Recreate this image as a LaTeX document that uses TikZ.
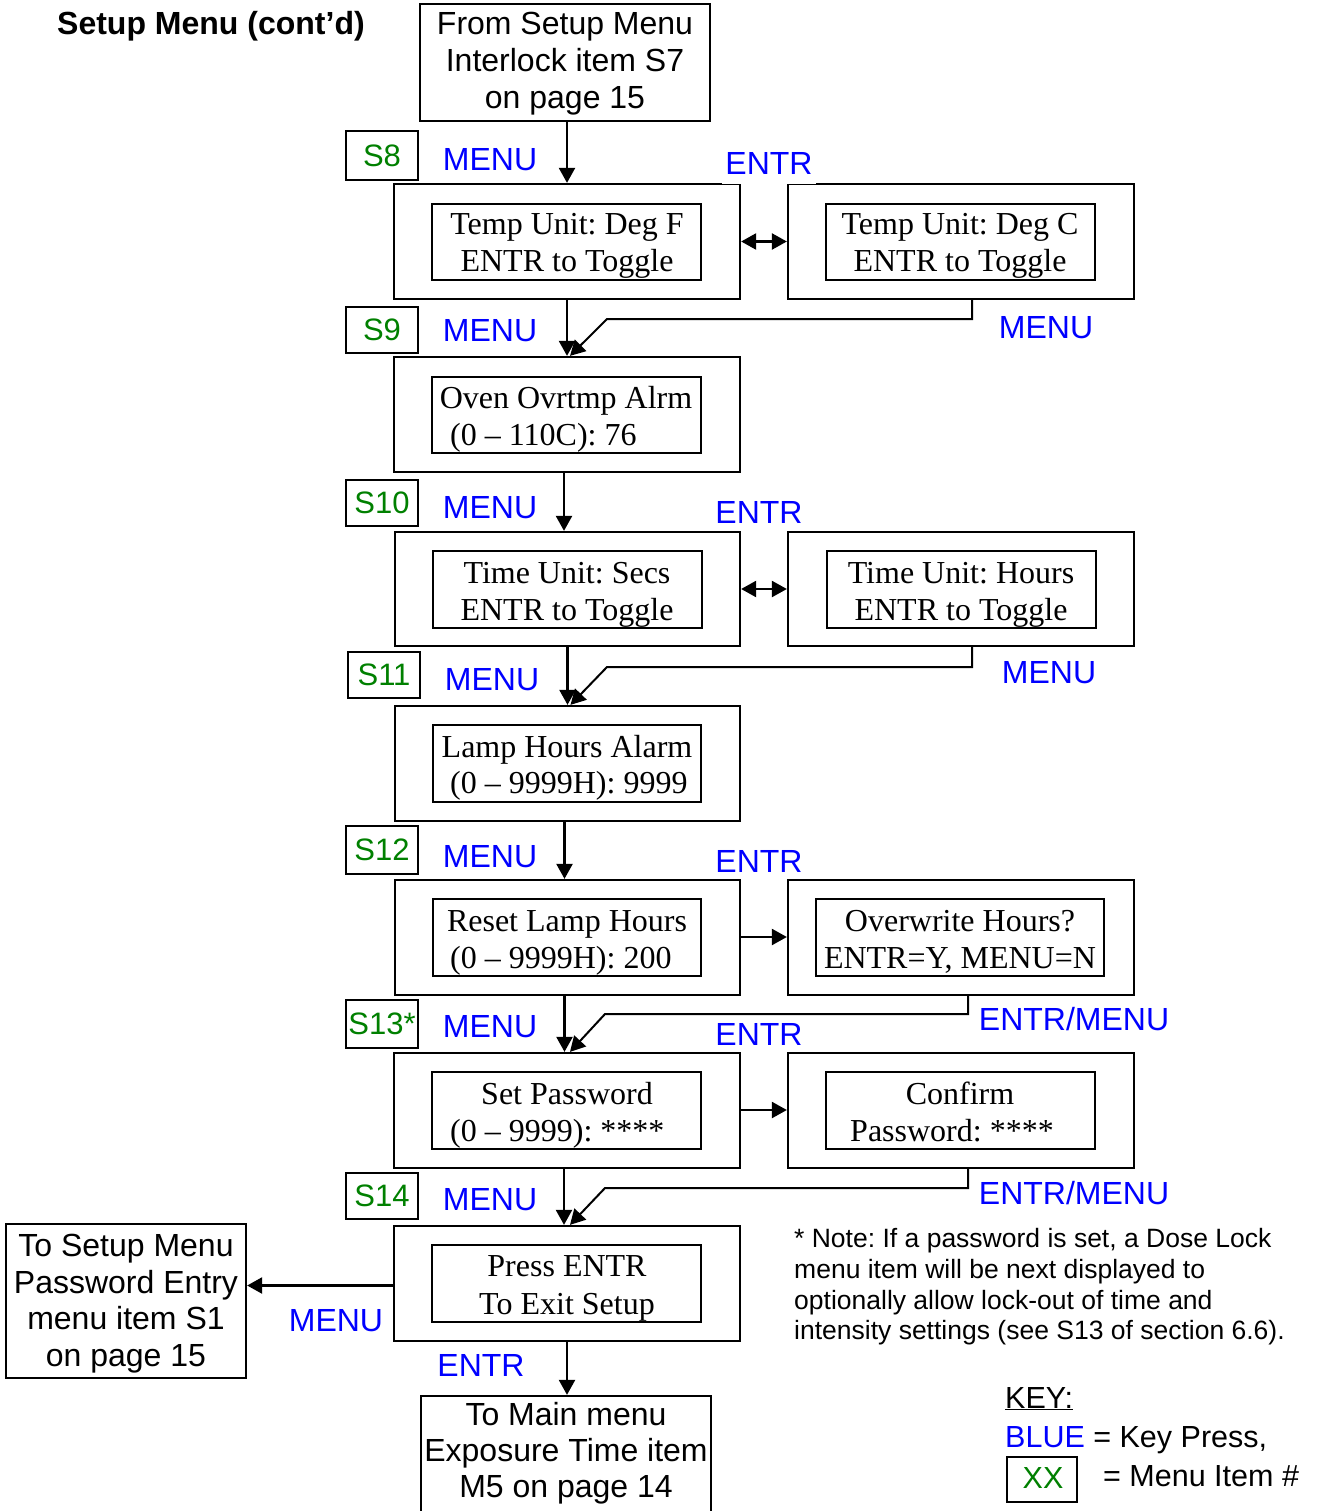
\documentclass[tikz,border=0pt]{standalone}
\usepackage{fontspec}
\setmainfont{Liberation Serif}
\newfontfamily\arialf{Liberation Sans}
\usetikzlibrary{arrows.meta,fit}
\definecolor{sgreen}{RGB}{0,128,0}
\definecolor{kblue}{RGB}{0,0,255}
\frenchspacing
\begin{document}
\frenchspacing
\begin{tikzpicture}[x=1pt,y=-1pt,
 obox/.style={draw, line width=2.3pt, inner sep=0pt, fit={#1}},
 ibox/.style={draw, line width=2pt, inner sep=0pt, fit={#1}},
 sbox/.style={draw, line width=2pt, inner sep=0pt, fit={#1}},
 sans/.style={font=\arialf\fontsize{32}{37}\selectfont, inner sep=0pt, anchor=base},
 serif/.style={font=\fontsize{32}{37}\selectfont, inner sep=0pt, anchor=base},
 key/.style={sans, text=kblue},
 entr/.style={key, fill=white, text depth=9pt, inner xsep=3pt},
 snum/.style={font=\arialf\fontsize{31}{36}\selectfont, inner sep=0pt, text=sgreen, anchor=center},
 note/.style={font=\arialf\fontsize{26.5}{30.7}\selectfont, inner sep=0pt, anchor=base west},
 tip/.tip={Triangle[length=15pt 0 0,width=16pt 0 0]},
 arr/.style={line width=2.4pt, -tip},
 darr/.style={line width=2.4pt, tip-tip},
 ret/.style={line width=2pt, -tip}
]
\useasboundingbox (0,0) rectangle (1323,1511);

% title
\node[sans, font=\arialf\bfseries\fontsize{32}{37}\selectfont, anchor=base west] (title) at (57,35) {Setup Menu (cont’d)};

% top box
\node[obox={(420,4) (710,121)}] (top) {};
\node[sans] (top1) at (565,35) {From Setup Menu};
\node[sans] (top2) at (565,72) {Interlock item S7};
\node[sans] (top3) at (565,109) {on page 15};

% S number boxes
\node[sbox={(346,131) (418,180)}] (s8) {};
\node[snum] (s8t) at (s8.center) {S8};
\node[sbox={(346,307) (418,353)}] (s9) {};
\node[snum] (s9t) at (s9.center) {S9};
\node[sbox={(346,480) (418,526)}] (s10) {};
\node[snum] (s10t) at (s10.center) {S10};
\node[sbox={(348,652) (420,698)}] (s11) {};
\node[snum] (s11t) at (s11.center) {S11};
\node[sbox={(346,826) (418,874)}] (s12) {};
\node[snum] (s12t) at (s12.center) {S12};
\node[sbox={(346,1000) (418,1048)}] (s13) {};
\node[snum] (s13t) at (s13.center) {S13*};
\node[sbox={(346,1173) (418,1219)}] (s14) {};
\node[snum] (s14t) at (s14.center) {S14};

% row A (S8)
\node[obox={(394,184) (740,299)}] (A) {};
\node[ibox={(432,204) (701,280)}] (Ai) {};
\node[serif] (A1) at (567,235) {Temp Unit: Deg F};
\node[serif] (A2) at (567,272) {ENTR to Toggle};
\node[obox={(788,184) (1134,299)}] (AR) {};
\node[ibox={(826,204) (1095,280)}] (ARi) {};
\node[serif] (AR1) at (960,235) {Temp Unit: Deg C};
\node[serif] (AR2) at (960,272) {ENTR to Toggle};

% row B (S9)
\node[obox={(394,357) (740,472)}] (B) {};
\node[ibox={(432,377) (701,453)}] (Bi) {};
\node[serif] (B1) at (566,408) {Oven Ovrtmp Alrm};
\node[serif, anchor=base west] (B2) at (450,445) {(0 – 110C): 76};

% row C (S10)
\node[obox={(395,532) (740,646)}] (C) {};
\node[ibox={(433,551) (702,628)}] (Ci) {};
\node[serif] (C1) at (567,583) {Time Unit: Secs};
\node[serif] (C2) at (567,620) {ENTR to Toggle};
\node[obox={(788,532) (1134,646)}] (CR) {};
\node[ibox={(827,551) (1096,628)}] (CRi) {};
\node[serif] (CR1) at (961,583) {Time Unit: Hours};
\node[serif] (CR2) at (961,620) {ENTR to Toggle};

% row D (S11)
\node[obox={(395,706) (740,821)}] (D) {};
\node[ibox={(433,725) (701,802)}] (Di) {};
\node[serif] (D1) at (567,757) {Lamp Hours Alarm};
\node[serif, anchor=base west] (D2) at (450,793) {(0 – 9999H): 9999};

% row E (S12)
\node[obox={(395,880) (740,995)}] (E) {};
\node[ibox={(433,899) (701,976)}] (Ei) {};
\node[serif] (E1) at (567,931) {Reset Lamp Hours};
\node[serif, anchor=base west] (E2) at (450,968) {(0 – 9999H): 200};
\node[obox={(788,880) (1134,995)}] (ER) {};
\node[ibox={(816,899) (1104,976)}] (ERi) {};
\node[serif] (ER1) at (960,931) {Overwrite Hours?};
\node[serif] (ER2) at (960,968) {ENTR=Y, MENU=N};

% row F (S13)
\node[obox={(394,1053) (740,1168)}] (F) {};
\node[ibox={(432,1072) (701,1149)}] (Fi) {};
\node[serif] (F1) at (567,1104) {Set Password};
\node[serif, anchor=base west] (F2) at (450,1141) {(0 – 9999): ****};
\node[obox={(788,1053) (1134,1168)}] (FR) {};
\node[ibox={(826,1072) (1095,1149)}] (FRi) {};
\node[serif] (FR1) at (960,1104) {Confirm};
\node[serif] (FR2) at (952,1141) {Password: ****};

% row G (S14)
\node[obox={(394,1226) (740,1341)}] (G) {};
\node[ibox={(432,1245) (701,1322)}] (Gi) {};
\node[serif] (G1) at (567,1276) {Press ENTR};
\node[serif] (G2) at (567,1314) {To Exit Setup};

% left exit box
\node[obox={(6,1224) (246,1378)}] (L) {};
\node[sans] (L1) at (126,1256) {To Setup Menu};
\node[sans] (L2) at (126,1293) {Password Entry};
\node[sans] (L3) at (126,1329) {menu item S1};
\node[sans] (L4) at (126,1366) {on page 15};

% bottom box
\node[obox={(421,1396) (711,1530)}] (bot) {};
\node[sans] (bot1) at (566,1425) {To Main menu};
\node[sans] (bot2) at (566,1461) {Exposure Time item};
\node[sans] (bot3) at (566,1497) {M5 on page 14};

% main vertical arrows
\draw[arr] (top.south -| A.north) -- (A.north);
\draw[arr] (A.south) -- (B.north);
\draw[arr] ([xshift=-3pt]B.south) -- ([xshift=-3pt]B.south |- C.north);
\draw[arr] (C.south) -- (C.south |- D.north);
\draw[arr] ([xshift=-3pt]D.south) -- ([xshift=-3pt]D.south |- E.north);
\draw[arr] ([xshift=-3pt]E.south) -- ([xshift=-3pt]E.south |- F.north);
\draw[arr] ([xshift=-3pt]F.south) -- ([xshift=-3pt]F.south |- G.north);
\draw[arr] (G.south) -- (G.south |- bot.north);
\draw[arr] ([yshift=-2pt]G.west) -- ([yshift=-2pt]G.west -| L.east);

% side arrows
\draw[darr] (A.east) -- (AR.west);
\draw[darr] (C.east) -- (CR.west);
\draw[arr] (E.east |- 0,937) -- (ER.west |- 0,937);
\draw[arr] (F.east |- 0,1110) -- (FR.west |- 0,1110);

% return connectors
\draw[ret] ([xshift=11pt]AR.south) |- (607,319) -- ([xshift=3pt]B.north);
\draw[ret] ([xshift=11pt]CR.south) |- (607,667) -- ([xshift=3pt]D.north);
\draw[ret] ([xshift=7pt]ER.south) |- (605,1014) -- ([xshift=3pt]F.north);
\draw[ret] ([xshift=7pt]FR.south) |- (605,1188) -- ([xshift=3pt]G.north);

% key press labels
\node[key] (m8) at (490,171) {MENU};
\node[key] (m9) at (490,341) {MENU};
\node[key] (m10) at (490,518) {MENU};
\node[key] (m11) at (492,690) {MENU};
\node[key] (m12) at (490,867) {MENU};
\node[key] (m13) at (490,1037) {MENU};
\node[key] (m14) at (490,1210) {MENU};
\node[key] (mA) at (1046,338) {MENU};
\node[key] (mC) at (1049,683) {MENU};
\node[key] (mE) at (1074,1030) {ENTR/MENU};
\node[key] (mF) at (1074,1204) {ENTR/MENU};
\node[entr] (e8) at (769,175) {ENTR};
\node[key] (e10) at (759,523) {ENTR};
\node[key] (e12) at (759,872) {ENTR};
\node[key] (e13) at (759,1045) {ENTR};
\node[key] (mG) at (336,1331) {MENU};
\node[key] (eG) at (481,1376) {ENTR};

% note
\node[note] (n1) at (794,1247.5) {* Note: If a password is set, a Dose Lock};
\node[note] (n2) at (794,1278.5) {menu item will be next displayed to};
\node[note] (n3) at (794,1309.5) {optionally allow lock-out of time and};
\node[note] (n4) at (794,1339.5) {intensity settings (see S13 of section 6.6).};

% key
\node[sans, font=\arialf\fontsize{30.5}{35}\selectfont, anchor=base west] (k1) at (1005,1408) {\underline{KEY:}};
\node[sans, font=\arialf\fontsize{30.5}{35}\selectfont, anchor=base west] (k2) at (1005,1447) {\textcolor{kblue}{BLUE} = Key Press,};
\node[sbox={(1007,1457) (1077,1502)}] (kx) {};
\node[snum, font=\arialf\fontsize{30.5}{35}\selectfont] (kxt) at (1043,1478) {XX};
\node[sans, font=\arialf\fontsize{30.5}{35}\selectfont, anchor=base west] (k3) at (1103,1486) {= Menu Item \#};
\end{tikzpicture}
\end{document}
